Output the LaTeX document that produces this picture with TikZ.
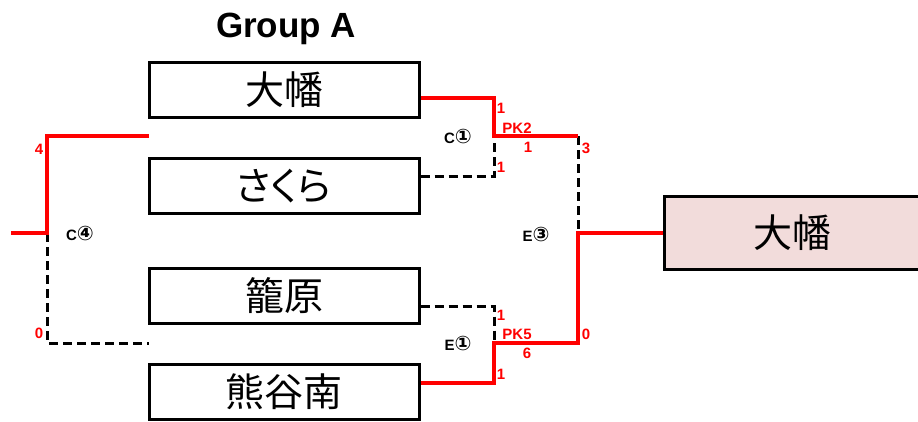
\documentclass[tikz,border=0pt]{standalone}
\usepackage{fontspec}
\setmainfont{Liberation Sans}
\newfontfamily\cjk[RawFeature=+palt]{Noto Sans CJK JP}
\newfontfamily\symfont{DejaVu Sans}
\usepackage{tikz}
\definecolor{champfill}{HTML}{F2DCDB}
\newcommand{\teamfont}{\cjk\fontsize{39}{39}\selectfont}
\newcommand{\smallfont}{\bfseries\fontsize{15}{15}\selectfont}
\newcommand{\circled}[1]{{\symfont\bfseries\fontsize{20}{20}\selectfont #1}}
\tikzstyle{team}=[draw, line width=3pt, inner sep=0, minimum width=270pt, minimum height=55pt, font=\teamfont]
\tikzstyle{champ}=[team, fill=champfill, minimum width=280pt, minimum height=73pt]
\tikzstyle{win}=[draw=red, line width=4pt]
\tikzstyle{lose}=[draw=black, line width=3pt, dash pattern=on 9pt off 5pt]
\tikzstyle{score}=[text=red, inner sep=0, font=\smallfont]
\tikzstyle{match}=[inner sep=0, font=\smallfont]
\begin{document}
\begin{tikzpicture}[x=1pt, y=-1pt]
        \useasboundingbox (0,0) rectangle (918,421);
        \node[inner sep=0, anchor=base, font=\bfseries\fontsize{35}{35}\selectfont] (G) at (286,37) {Group A};
        \node[team]  (T1) at (284,89.5) {大幡};
        \node[team]  (T2) at (284,186)  {さくら};
        \node[team]  (T3) at (284,296)  {籠原};
        \node[team]  (T4) at (284,392)  {熊谷南};
        \node[champ] (W)  at (804,232.5) {};
        \node[inner sep=0, font=\teamfont] (WT) at (792,232.5) {大幡};
        \coordinate (C1) at (494,136);
        \coordinate (E1) at (494,343);
        \coordinate (E3a) at (578,136);
        \coordinate (E3b) at (578,343);
        \coordinate (E3) at (E3a |- W.west);
        \coordinate (C4top) at (149,136);
        \coordinate (C4bot) at (149,343);
        \coordinate (C4) at (47,233);
        \coordinate (C4out) at (11,233);
        \draw[lose] ([yshift=10pt]T2.east) -| (C1);
        \draw[lose] ([yshift=-10pt]T3.east) -| (E1);
        \draw[lose] (E3a) -- (E3);
        \draw[lose] (C4) |- (C4bot);
        \draw[win] ([yshift=-8pt]T1.east) -| (C1) -- (E3a);
        \draw[win] ([yshift=9pt]T4.east) -| (E1) -- (E3b) -- (E3) -- (W.west);
        \draw[win] (C4top) -| (C4) -- (C4out);
        \node[match] (M1) at (458,136) {C\circled{①}};
        \node[match] (M2) at (458,343) {E\circled{①}};
        \node[match] (M3) at (536,234) {E\circled{③}};
        \node[match] (M4) at (80,233)  {C\circled{④}};
        \node[score] (S1) at (501,108) {1};
        \node[score] (S2) at (517,128) {PK2};
        \node[score] (S3) at (528,147) {1};
        \node[score] (S4) at (586,148) {3};
        \node[score] (S5) at (501,167) {1};
        \node[score] (S6) at (501,315) {1};
        \node[score] (S7) at (517,334) {PK5};
        \node[score] (S8) at (527,353) {6};
        \node[score] (S9) at (501,374) {1};
        \node[score] (S10) at (586,334) {0};
        \node[score] (S11) at (39,149) {4};
        \node[score] (S12) at (39,333) {0};
    \end{tikzpicture}
\end{document}
